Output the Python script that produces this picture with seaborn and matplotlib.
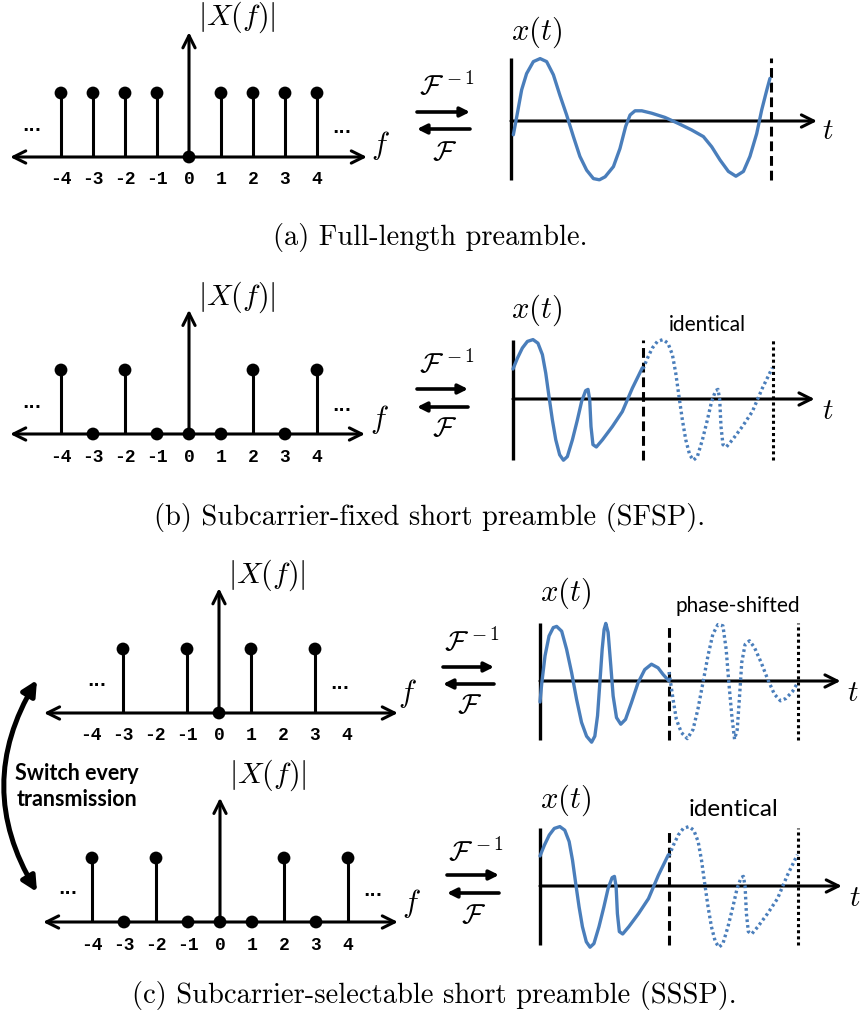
import numpy as np
import pandas as pd
import matplotlib
matplotlib.use("Agg")
import matplotlib.pyplot as plt
import seaborn as sns
from matplotlib.patches import FancyArrowPatch

sns.set_theme(style="white")
plt.rcParams["mathtext.fontset"] = "cm"
plt.rcParams["font.family"] = ["DejaVu Sans"]

# ---------------- data ----------------
freqs = [-4, -3, -2, -1, 0, 1, 2, 3, 4]
tick_labels = ["-4", "-3", "-2", "-1", "0", "1", "2", "3", "4"]
mag_full = [1, 1, 1, 1, 0, 1, 1, 1, 1]
mag_sfsp = [1, 0, 1, 0, 0, 0, 1, 0, 1]
mag_sssp_odd = [np.nan, 1, np.nan, 1, 0, 1, np.nan, 1, np.nan]
mag_sssp_even = [1, 0, 1, 0, 0, 0, 1, 0, 1]

# time-domain waveforms (t in units of one period, amplitude normalised)
t_full = [0.009, 0.022, 0.041, 0.060, 0.086, 0.112, 0.137, 0.163, 0.188, 0.214,
          0.240, 0.265, 0.291, 0.317, 0.340, 0.362, 0.394, 0.419, 0.441, 0.458,
          0.477, 0.503, 0.541, 0.592, 0.643, 0.695, 0.740, 0.772, 0.804, 0.836,
          0.865, 0.894, 0.919, 0.945, 0.964, 0.984, 0.996]
x_full = [-0.23, 0.07, 0.52, 0.79, 0.99, 1.04, 0.99, 0.77, 0.43, 0.10,
          -0.26, -0.59, -0.82, -0.96, -0.98, -0.93, -0.76, -0.46, -0.09, 0.10,
          0.17, 0.17, 0.13, 0.06, -0.04, -0.15, -0.26, -0.43, -0.65, -0.84,
          -0.92, -0.84, -0.59, -0.21, 0.18, 0.52, 0.71]

t_sfsp = [0.0, 0.034, 0.072, 0.111, 0.154, 0.192, 0.226, 0.252, 0.277, 0.303,
          0.329, 0.359, 0.388, 0.418, 0.457, 0.495, 0.528, 0.559, 0.577, 0.590,
          0.600, 0.615, 0.641, 0.688, 0.764, 0.841, 0.918, 0.995]
x_sfsp = [0.50, 0.68, 0.85, 0.96, 0.99, 0.93, 0.74, 0.43, 0.04, -0.35,
          -0.68, -0.93, -1.02, -0.96, -0.68, -0.35, -0.04, 0.14, 0.16, -0.01,
          -0.46, -0.76, -0.80, -0.68, -0.46, -0.21, 0.18, 0.52]

t_odd_first = [0.0, 0.013, 0.039, 0.070, 0.103, 0.129, 0.168, 0.206, 0.245, 0.284,
               0.322, 0.361, 0.400, 0.425, 0.446, 0.464, 0.482, 0.497, 0.510, 0.528,
               0.549, 0.567, 0.593, 0.626, 0.663, 0.709, 0.760, 0.812, 0.864, 0.915,
               0.954, 1.0]
x_odd_first = [-0.35, -0.05, 0.42, 0.75, 0.89, 0.91, 0.83, 0.53, 0.14, -0.31,
               -0.69, -0.92, -1.02, -0.92, -0.58, -0.03, 0.53, 0.86, 0.96, 0.81,
               0.25, -0.25, -0.61, -0.72, -0.64, -0.36, -0.03, 0.19, 0.28, 0.22,
               0.11, 0.0]
t_odd_shift = [0.0, 0.032, 0.057, 0.096, 0.142, 0.186, 0.224, 0.263, 0.302, 0.340,
               0.379, 0.418, 0.443, 0.464, 0.487, 0.508, 0.529, 0.547, 0.564, 0.590,
               0.624, 0.662, 0.714, 0.765, 0.817, 0.864, 0.907, 0.959, 0.997]
x_odd_shift = [0.15, -0.31, -0.64, -0.86, -0.96, -0.81, -0.47, -0.03, 0.42, 0.78,
               0.94, 0.92, 0.53, -0.03, -0.58, -0.97, -0.81, -0.25, 0.31, 0.61,
               0.67, 0.56, 0.31, 0.03, -0.22, -0.33, -0.29, -0.17, -0.03]

captions = ["(a) Full-length preamble.",
            "(b) Subcarrier-fixed short preamble (SFSP).",
            "(c) Subcarrier-selectable short preamble (SSSP)."]

# ---------------- layout helpers ----------------
W, H = 861, 1017
fig = plt.figure(figsize=(W / 100, H / 100), dpi=100)
fig.patch.set_facecolor("white")
BLUE = "#4a7ebb"
LW = 2.2


def pix_axes(left, top, w, h):
    ax = fig.add_axes([left / W, 1 - (top + h) / H, w / W, h / H])
    ax.axis("off")
    ax.patch.set_alpha(0)
    return ax


def set_lims(ax, left, top, w, h, x0, y0, sx, sy):
    ax.set_xlim((left - x0) / sx, (left + w - x0) / sx)
    ax.set_ylim((y0 - (top + h)) / sy, (y0 - top) / sy)


def stem_panel(top, x0, y0, mags, ax_lo, ax_hi, v_top):
    left, w, h = 0, 430, 200
    ax = pix_axes(left, top, w, h)
    df = pd.DataFrame({"f": freqs, "m": mags}).dropna()
    nz = df[df["m"] > 0]
    ax.vlines(nz["f"], 0, nz["m"], color="black", lw=LW, zorder=3)
    sns.scatterplot(data=df, x="f", y="m", ax=ax, color="black", s=85,
                    edgecolor="none", legend=False, zorder=5)
    ax.annotate("", xy=(ax_hi, 0), xytext=(ax_lo, 0),
                arrowprops=dict(arrowstyle="<->", lw=LW, color="black",
                                shrinkA=0, shrinkB=0, mutation_scale=22))
    ax.annotate("", xy=(0, v_top), xytext=(0, 0),
                arrowprops=dict(arrowstyle="->", lw=LW, color="black",
                                shrinkA=0, shrinkB=0, mutation_scale=22))
    for f, lab in zip(freqs, tick_labels):
        ax.text(f, -23 / 64, lab, ha="center", va="center",
                family="Liberation Mono", weight="bold", fontsize=13,
                color="black")
    ax.axis("off")
    set_lims(ax, left, top, w, h, x0, y0, 32, 64)
    return ax


def wave_panel(top, x0, y0, P, a_hi, a_lo, t_end, segments, n_periods):
    left, w, h = 400, 461, 170
    ax = pix_axes(left, top, w, h)
    ax.plot([0, 0], [a_lo, a_hi], color="black", lw=2.4, solid_capstyle="butt")
    ax.annotate("", xy=(t_end, 0), xytext=(0, 0),
                arrowprops=dict(arrowstyle="->", lw=LW, color="black",
                                shrinkA=0, shrinkB=0, mutation_scale=22))
    ax.vlines(1, a_lo, a_hi, color="black", lw=2.2, linestyles=(0, (3.2, 1.6)))
    if n_periods == 2:
        ax.vlines(2, a_lo, a_hi, color="black", lw=2.2, linestyles=(0, (1.0, 1.0)))
    for tt, xx, ls in segments:
        df = pd.DataFrame({"t": tt, "x": xx})
        sns.lineplot(data=df, x="t", y="x", ax=ax, sort=False, estimator=None,
                     color=BLUE, lw=2.4, linestyle=ls, zorder=4,
                     solid_joinstyle="round", solid_capstyle="round")
    ax.axis("off")
    set_lims(ax, left, top, w, h, x0, y0, P, 60)
    return ax


# ---------------- stem panels ----------------
stem_panel(0, 189, 157, mag_full, -5.59, 5.56, 1.95)
stem_panel(280, 189, 434, mag_sfsp, -5.59, 5.50, 1.94)
stem_panel(560, 219, 713, mag_sssp_odd, -5.47, 5.59, 1.95)
stem_panel(770, 220, 922, mag_sssp_even, -5.53, 5.56, 1.94)

# ---------------- waveform panels ----------------
wave_panel(30, 511, 121, 260, 1.05, -0.98, 1.177,
           [(t_full, x_full, "-")], 1)
rep_t = [t + 1 for t in t_sfsp]
wave_panel(310, 513, 399, 130, 0.98, -1.02, 2.32,
           [(t_sfsp, x_sfsp, "-"), (rep_t, x_sfsp, (0, (0.8, 0.9)))], 2)
shift_t = [t + 1 for t in t_odd_shift]
wave_panel(590, 540, 681, 129, 0.97, -0.98, 2.33,
           [(t_odd_first, x_odd_first, "-"), (shift_t, x_odd_shift, (0, (0.8, 0.9)))], 2)
wave_panel(795, 540, 886, 129, 0.97, -0.98, 2.34,
           [(t_sfsp, x_sfsp, "-"), (rep_t, x_sfsp, (0, (0.8, 0.9)))], 2)

# ---------------- overlay for labels ----------------
ov = fig.add_axes([0, 0, 1, 1])
ov.set_xlim(0, W)
ov.set_ylim(H, 0)
ov.axis("off")
ov.patch.set_alpha(0)

math_kw = dict(ha="center", va="center", color="black")
# |X(f)| labels
for x, y in [(237, 17), (237, 297), (267, 575), (268, 775)]:
    ov.text(x, y, r"$|X(f)|$", fontsize=21.5, **math_kw)
# f labels
for x, y in [(380, 146), (379, 420), (407, 693), (411, 904)]:
    ov.text(x, y, r"$f$", fontsize=22, **math_kw)
# ellipses
for x, y in [(32, 131), (342, 133), (32, 408), (342, 411),
             (97, 686), (340, 689), (68, 894), (373, 896)]:
    ov.text(x, y, "...", ha="center", va="baseline", fontsize=12,
            weight="bold", family="DejaVu Sans", color="black")
# x(t) labels
for x, y in [(537, 32), (537, 310), (566, 593), (566, 800)]:
    ov.text(x, y, r"$x(t)$", fontsize=22, **math_kw)
# t labels
for x, y in [(828, 131), (828, 411), (853, 693), (855, 898)]:
    ov.text(x, y, r"$t$", fontsize=21, **math_kw)
# Fourier transform arrows
for cx, y_inv, y_r, y_l, y_f, x0, x1 in [(447, 86, 112, 129, 152, 417, 470),
                                         (447, 364, 389, 407, 428, 417, 468),
                                         (472, 642, 667, 684, 705, 443, 494),
                                         (476, 852, 875, 893, 915, 447, 499)]:
    ov.text(cx, y_inv, r"$\mathcal{F}^{\,-1}$", fontsize=20, **math_kw)
    ov.text(cx - 2, y_f, r"$\mathcal{F}$", fontsize=20, **math_kw)
    ov.annotate("", xy=(x1, y_r), xytext=(x0, y_r),
                arrowprops=dict(arrowstyle="-|>", lw=2.6, color="black",
                                shrinkA=0, shrinkB=0, mutation_scale=14))
    ov.annotate("", xy=(x0, y_l), xytext=(x1, y_l),
                arrowprops=dict(arrowstyle="-|>", lw=2.6, color="black",
                                shrinkA=0, shrinkB=0, mutation_scale=14))

# annotations above waveforms
ov.text(707, 325, "identical", ha="center", va="center", fontsize=15,
        family="Lato", color="black")
ov.text(738, 606, "phase-shifted", ha="center", va="center", fontsize=15,
        family="Lato", color="black")
ov.text(734, 810, "identical", ha="center", va="center", fontsize=17.5,
        family="Lato", color="black")

# switch arrow + text
ov.add_patch(FancyArrowPatch(posA=(37, 680), posB=(37, 892),
                             connectionstyle="arc3,rad=0.3",
                             arrowstyle="<|-|>", mutation_scale=22,
                             lw=3.6, color="black", shrinkA=0, shrinkB=0))
ov.text(77, 773, "Switch every", ha="center", va="center", fontsize=15.5,
        weight="bold", family="Lato", color="black")
ov.text(77, 800, "transmission", ha="center", va="center", fontsize=15.5,
        weight="bold", family="Lato", color="black")

# captions
for (x, y), cap in zip([(430, 238), (430, 517), (434, 995)], captions):
    ov.text(x, y, cap, ha="center", va="center", fontsize=20.5,
            family="cmr10", color="black")

fig.savefig("out.png", dpi=100, facecolor="white")
